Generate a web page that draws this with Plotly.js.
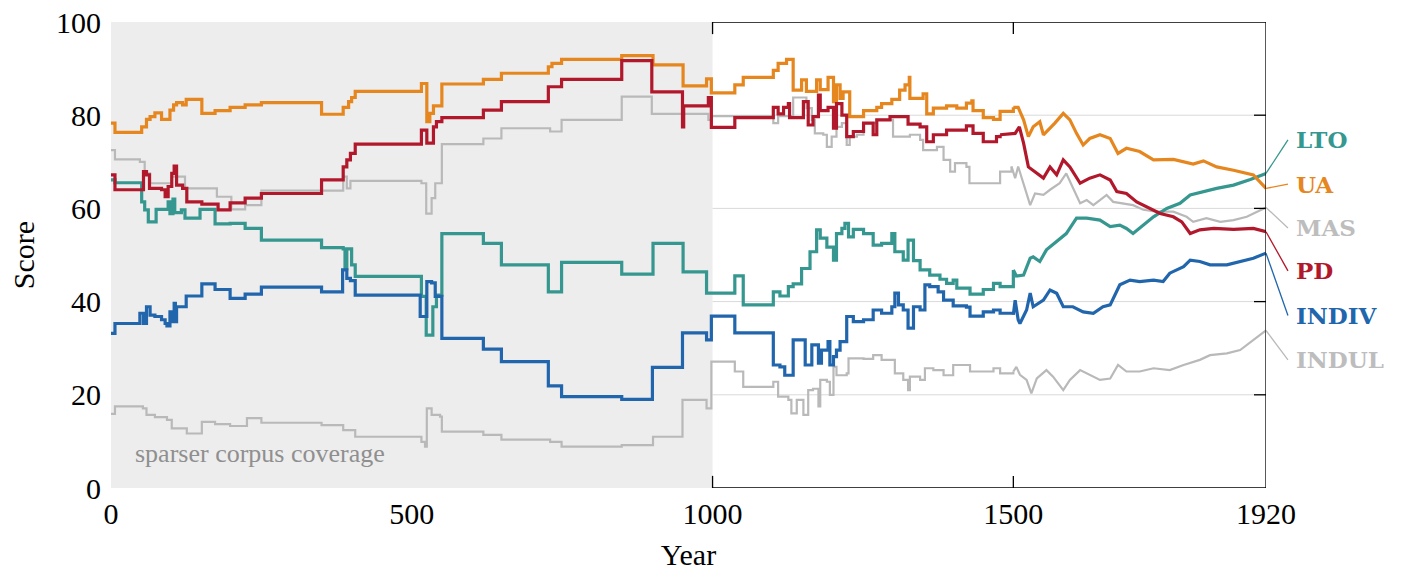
<!DOCTYPE html>
<html>
<head>
<meta charset="utf-8">
<script src="https://cdn.plot.ly/plotly-3.0.1.min.js"></script>
<style>
  html, body { margin: 0; padding: 0; background: #fff; }
  #chart { width: 1401px; height: 572px; }
</style>
</head>
<body>
<div id="chart"></div>
<script>
// --- data (year, score) ---
var uaYear = [0,6.6,51,59,65,73,84,98,104,109,119,125,151,173,198,223,250,350,386,395,400,406,516,525,530,536,550,619,649,727,733,749,849,901,951,990,998,1037,1051,1101,1109,1123,1134,1148,1156,1173,1179,1192,1201,1206,1212,1217,1228,1251,1273,1281,1298,1311,1320,1327,1328,1350,1356,1367,1389,1406,1422,1431,1433,1450,1467,1478,1500,1508,1517,1525,1533,1544,1550,1561,1569,1583,1594,1605,1616,1627,1644,1661,1674,1688,1710,1733,1766,1799,1816,1838,1866,1899,1920];
var uaScore = [78.3,76.3,77.5,79.1,79.7,80.5,79.1,81.1,82.2,82.7,82.2,83.4,80.4,81.0,81.7,82.2,82.7,80.2,81.7,82.9,83.8,85.1,86.8,78.6,80.4,82.0,86.7,87.7,89.0,90.4,91.1,92.0,92.8,90.8,86.3,87.8,84.8,86.5,88.1,89.6,91.1,92.0,85.4,87.6,85.1,87.6,85.5,88.1,82.9,86.5,83.6,85.0,79.7,81.0,81.7,82.5,83.4,85.4,86.5,88.1,83.6,84.6,80.3,81.5,82.0,81.5,82.6,83.1,81.0,79.5,79.1,80.8,81.7,81.7,79.0,75.4,77.5,78.6,75.8,77.2,78.3,80.4,79.0,76.1,73.6,75.0,75.8,75.0,71.8,72.9,72.2,70.4,70.5,69.5,70.2,68.9,68.2,67.2,64.3];

var pdYear = [0,6.6,54,59,64,84,90,95,101,105,109,119,126,151,178,198,223,250,350,386,392,398,406,516,525,536,541,550,619,649,727,749,849,899,950,952,993,998,1037,1101,1109,1118,1126,1128,1151,1159,1167,1176,1179,1192,1201,1206,1215,1223,1234,1251,1267,1273,1295,1311,1325,1345,1356,1367,1389,1422,1433,1450,1472,1478,1503,1510,1517,1525,1539,1550,1561,1572,1583,1594,1611,1627,1644,1661,1672,1688,1705,1727,1744,1766,1780,1794,1810,1833,1866,1899,1920];
var pdScore = [67.2,64.0,67.9,67.2,64.3,64.0,62.5,64.7,67.5,69.1,65.0,64.3,61.4,60.9,59.7,61.2,62.2,63.2,66.1,68.9,70.4,71.8,73.8,76.8,74.0,77.5,78.6,79.5,81.1,82.9,86.1,87.7,91.7,85.0,77.5,82.0,83.8,77.4,79.5,81.7,80.3,81.7,82.5,79.5,82.9,77.9,79.7,84.3,81.0,81.7,77.2,82.5,80.0,75.4,76.5,78.3,75.8,79.0,79.7,79.7,78.1,77.5,74.3,75.8,76.8,77.7,76.1,74.3,75.4,75.8,76.1,77.5,74.0,68.9,67.5,66.5,68.9,67.2,70.4,68.9,65.4,66.5,67.2,66.1,63.6,63.2,61.4,60.0,58.9,58.2,57.1,54.6,55.4,55.7,55.5,55.7,55.0];

var masYear = [0,6.6,48,56,65,101,123,176,200,223,250,386,392,398,516,524,533,539,550,619,649,730,749,849,899,993,998,1101,1109,1134,1156,1165,1170,1184,1190,1198,1206,1215,1223,1228,1240,1251,1273,1300,1328,1345,1350,1373,1384,1395,1403,1422,1427,1461,1478,1497,1503,1508,1517,1528,1536,1550,1561,1577,1588,1599,1611,1622,1633,1644,1655,1666,1683,1699,1716,1738,1766,1788,1799,1821,1844,1866,1888,1920];
var masScore = [72.5,70.5,70.0,67.5,65.4,66.8,64.3,62.5,59.8,60.7,63.8,66.8,64.3,65.9,65.4,58.9,62.2,65.4,73.8,75.0,77.2,76.5,79.0,84.0,80.3,79.0,79.8,78.3,79.8,83.8,81.5,79.0,76.1,75.8,73.2,75.4,77.5,78.3,73.6,75.4,75.8,78.3,79.0,75.4,75.8,74.7,72.5,73.2,70.4,67.9,69.7,68.9,65.4,65.4,67.9,69.0,66.5,69.0,65.4,60.7,63.2,62.9,64.0,65.4,67.5,64.6,61.1,61.8,60.7,61.8,62.9,61.4,61.1,60.7,59.7,59.3,59.3,58.2,57.1,57.9,57.1,57.5,58.2,60.2];

var ltoYear = [0,6.6,51,56,62,75,95,98,103,106,117,123,148,173,198,223,250,350,386,389,392,400,406,516,524,535,541,550,619,649,727,749,849,901,951,990,1037,1051,1101,1112,1126,1134,1148,1162,1173,1179,1190,1201,1206,1215,1220,1226,1234,1251,1267,1281,1298,1303,1317,1325,1334,1345,1361,1378,1389,1400,1406,1428,1450,1467,1478,1500,1505,1517,1528,1533,1544,1555,1572,1588,1605,1622,1644,1661,1677,1688,1699,1716,1733,1755,1777,1794,1816,1838,1866,1894,1920];
var ltoScore = [66.1,65.5,61.4,59.7,57.1,59.8,61.4,58.9,62.0,59.1,59.7,57.9,59.8,56.7,56.8,55.7,53.2,51.6,51.3,47.0,51.3,47.9,45.4,41.1,32.8,38.9,41.4,54.6,52.5,47.9,42.1,48.4,45.9,52.5,46.4,41.8,45.5,39.3,42.1,41.2,43.2,43.8,47.1,50.7,55.4,53.6,51.7,48.9,54.6,55.7,56.8,53.9,55.5,54.6,52.1,52.5,54.6,50.7,48.9,53.2,48.8,46.8,45.7,44.8,43.9,44.6,42.9,41.6,42.6,43.9,43.2,46.8,45.5,45.7,49.3,49.6,48.6,51.1,52.9,54.6,57.9,57.9,57.5,56.1,56.4,55.7,54.6,56.4,58.2,60.0,61.1,62.9,63.6,64.3,65.0,66.2,67.5];

var indivYear = [0,6.6,48,54,59,65,73,84,90,93,98,101,105,107,109,125,151,173,198,223,250,350,385,392,398,406,514,525,533,539,550,619,649,727,749,849,900,950,990,998,1037,1101,1112,1120,1134,1154,1165,1176,1181,1192,1195,1201,1206,1212,1223,1234,1251,1267,1281,1298,1303,1309,1317,1325,1334,1345,1353,1361,1375,1384,1400,1422,1428,1450,1467,1478,1500,1503,1508,1511,1522,1528,1533,1550,1561,1572,1583,1599,1616,1633,1649,1661,1677,1694,1710,1733,1749,1760,1783,1794,1810,1827,1855,1877,1899,1920];
var indivScore = [33.2,35.3,37.5,35.3,38.9,37.1,36.8,36.1,35.3,34.8,37.8,35.7,39.6,35.7,38.9,41.2,43.8,42.6,40.7,41.6,43.1,42.1,46.8,45.0,44.5,41.4,36.8,44.3,44.0,41.1,32.1,29.8,27.1,21.9,19.6,19.0,25.9,33.3,31.8,36.9,33.3,26.4,26.0,24.2,31.8,26.4,30.7,26.8,29.6,31.4,26.4,28.2,29.6,31.4,36.8,35.7,36.1,38.2,37.5,38.9,41.8,39.3,38.2,34.3,38.9,38.2,43.6,43.2,42.1,40.3,39.1,38.8,36.9,37.8,38.2,37.5,37.2,40.3,36.1,35.3,38.2,41.8,38.9,40.3,42.5,41.8,38.9,38.9,37.8,37.5,38.9,39.3,43.6,44.6,44.3,44.6,44.3,46.1,47.5,48.9,48.6,47.9,47.9,48.6,49.3,50.4];

var indulYear = [0,6.6,53,59,73,93,101,126,151,173,198,226,250,350,386,406,516,522,525,533,547,550,619,649,730,749,849,901,950,990,998,1037,1051,1101,1109,1126,1131,1140,1151,1159,1167,1176,1179,1190,1195,1201,1206,1223,1226,1251,1267,1281,1295,1303,1317,1325,1328,1345,1353,1367,1384,1400,1422,1428,1450,1467,1478,1500,1505,1511,1522,1530,1539,1555,1566,1583,1594,1611,1627,1644,1661,1674,1688,1710,1733,1760,1783,1810,1827,1855,1877,1899,1920];
var indulScore = [15.9,17.5,17.1,15.7,15.2,14.6,12.8,11.7,14.2,13.7,13.3,15.0,14.0,13.5,12.4,11.0,9.9,8.9,17.1,15.7,15.3,12.1,11.4,10.4,9.9,8.9,9.2,11.0,18.9,17.1,27.1,25.0,21.7,22.8,19.6,18.9,16.0,18.9,15.7,21.0,21.3,17.5,23.2,22.8,20.0,26.0,24.2,24.6,27.8,27.7,28.5,27.5,27.5,24.6,23.2,21.0,23.9,23.2,25.7,25.3,24.2,26.4,26.4,25.0,25.0,25.7,24.6,25.0,26.0,24.3,23.2,20.3,23.5,25.3,23.9,21.0,23.2,25.3,24.2,23.2,23.5,26.4,25.0,25.0,25.7,25.3,26.4,27.5,28.5,28.9,29.6,31.8,33.8];

var seriesNames = ["MAS", "INDUL", "LTO", "UA", "PD", "INDIV"];
var seriesYears = [masYear, indulYear, ltoYear, uaYear, pdYear, indivYear];
var seriesScores = [masScore, indulScore, ltoScore, uaScore, pdScore, indivScore];
var seriesColors = ["#b9b9b9", "#b9b9b9", "#35978f", "#e6861e", "#b2182b", "#2166ac"];
var seriesWidths = [2.2, 2.2, 3.2, 3.2, 3.2, 3.2];
// where each end label sits (score units)
var labelY = [55.8, 27.5, 74.7, 65.2, 46.6, 37.0];
var labelColors = ["#bdbdbd", "#bdbdbd", "#35978f", "#e6861e", "#b2182b", "#2166ac"];

var xTicks = [0, 500, 1000, 1500, 1920];
var yTicks = [0, 20, 40, 60, 80, 100];
var gridY = [20, 40, 60, 80];
var sparseEnd = 1000;
var xMax = 1920;
var serif = "Liberation Serif, Times New Roman, serif";

var data = [];
seriesNames.forEach(function (name, i) {
  var xs = seriesYears[i], ys = seriesScores[i];
  var k = 0;
  while (k < xs.length - 1 && xs[k + 1] <= 1500) k++;
  // step-like early part, dense later part
  data.push({
    x: xs.slice(0, k + 1), y: ys.slice(0, k + 1), type: "scatter", mode: "lines",
    line: { color: seriesColors[i], width: seriesWidths[i], shape: "hv" },
    hoverinfo: "skip", showlegend: false
  });
  data.push({
    x: xs.slice(k), y: ys.slice(k), type: "scatter", mode: "lines",
    line: { color: seriesColors[i], width: seriesWidths[i], shape: "linear" },
    hoverinfo: "skip", showlegend: false
  });
});

var shapes = [
  { type: "rect", xref: "x", yref: "y", x0: 0, x1: sparseEnd, y0: 0, y1: 100,
    fillcolor: "#ededed", line: { width: 0 }, layer: "below" }
];
gridY.forEach(function (g) {
  shapes.push({ type: "line", xref: "x", yref: "y", x0: sparseEnd, x1: xMax, y0: g, y1: g,
    line: { color: "#d9d9d9", width: 1 }, layer: "below" });
});
// frame only around the dense part
var frame = { color: "#000", width: 1.3 };
shapes.push({ type: "line", xref: "x", yref: "y", x0: sparseEnd, x1: xMax, y0: 100, y1: 100, line: frame });
shapes.push({ type: "line", xref: "x", yref: "y", x0: sparseEnd, x1: xMax, y0: 0, y1: 0, line: frame });
shapes.push({ type: "line", xref: "x", yref: "y", x0: xMax, x1: xMax, y0: 0, y1: 100, line: frame });
[1000, 1500].forEach(function (t) {
  shapes.push({ type: "line", xref: "x", yref: "y", x0: t, x1: t, y0: 100, y1: 97.4, line: frame });
  shapes.push({ type: "line", xref: "x", yref: "y", x0: t, x1: t, y0: 0, y1: 2.6, line: frame });
});
gridY.forEach(function (g) {
  shapes.push({ type: "line", xref: "x", yref: "y", x0: xMax, x1: xMax - 20, y0: g, y1: g, line: frame });
});

var annotations = [
  { xref: "x", yref: "y", x: 36, y: 7.3, xanchor: "left", yanchor: "middle",
    text: "sparser corpus coverage", showarrow: false,
    font: { family: serif, size: 26, color: "#8f8f8f" } }
];
seriesNames.forEach(function (name, i) {
  var ys = seriesScores[i];
  shapes.push({ type: "line", xref: "paper", yref: "y", x0: 1, x1: 1.019,
    y0: ys[ys.length - 1], y1: labelY[i], line: { color: seriesColors[i], width: 1.3 } });
  annotations.push({ xref: "paper", yref: "y", x: 1.024, y: labelY[i], xanchor: "left", yanchor: "middle",
    text: "<b>" + name + "</b>", showarrow: false,
    font: { family: "DejaVu Serif, serif", size: 23, color: labelColors[i] } });
});

var layout = {
  width: 1401,
  height: 572,
  margin: { l: 111, r: 135, t: 22, b: 84 },
  paper_bgcolor: "#fff",
  plot_bgcolor: "#fff",
  showlegend: false,
  font: { family: serif, color: "#000", size: 30 },
  xaxis: {
    range: [0, xMax], tickvals: xTicks, ticktext: xTicks.map(String),
    showgrid: false, zeroline: false, showline: false, ticks: "",
    ticklabelstandoff: 5,
    tickfont: { family: serif, size: 30 },
    title: { text: "Year", font: { family: serif, size: 30 }, standoff: 14 }
  },
  yaxis: {
    range: [0, 100], tickvals: yTicks, ticktext: yTicks.map(String),
    showgrid: false, zeroline: false, showline: false, ticks: "",
    ticklabelstandoff: 9,
    tickfont: { family: serif, size: 30 },
    title: { text: "Score", font: { family: serif, size: 30 }, standoff: 12 }
  },
  shapes: shapes,
  annotations: annotations
};

Plotly.newPlot("chart", data, layout, { staticPlot: true });
</script>
</body>
</html>
